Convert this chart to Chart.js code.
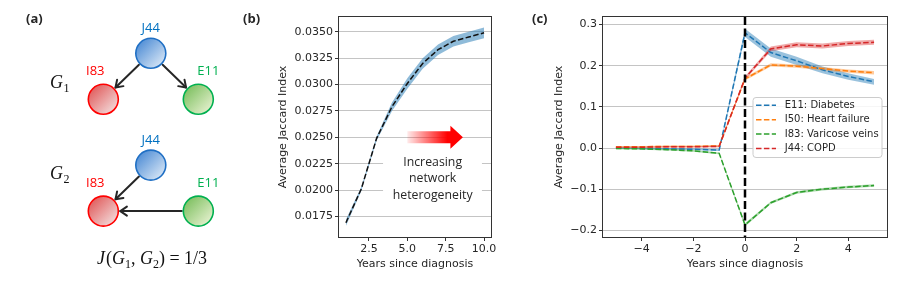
<!DOCTYPE html>
<html><head><meta charset="utf-8">
<script src="https://cdn.jsdelivr.net/npm/chart.js@4.4.0/dist/chart.umd.min.js"></script>
<style>
html,body{margin:0;padding:0;background:#fff;}
#wrap{position:relative;width:900px;height:288px;overflow:hidden;background:#fff;}
canvas{position:absolute;top:0;}
</style></head><body>
<div id="wrap">
<canvas id="ca" width="240" height="288" style="left:0px"></canvas>
<canvas id="cb" width="280" height="288" style="left:240px"></canvas>
<canvas id="cc" width="380" height="288" style="left:520px"></canvas>
</div>
<script>
// ---------- Panel (a): graph diagram ----------
const nodeNames = ['J44','I83','E11','J44','I83','E11'];
const nodeCol   = [1, 0, 2, 1, 0, 2];
const nodeRow   = [0, 1, 1, 2.43, 3.43, 3.43];
const edges     = [[0,1],[0,2],[3,4],[5,4]];
const graphNames = ['1','2'];
const graphRow   = [0.62, 2.6];
const jaccardText = '1/3';

// ---------- Panel (b) ----------
const yearsB   = [1,2,3,4,5,6,7,8,9,10];
const jaccardB = [0.0169,0.0201,0.0249,0.0279,0.0301,0.0320,0.0333,0.0341,0.0345,0.0349];
const errB     = [0.0003,0.0002,0.0002,0.0004,0.0005,0.0005,0.0005,0.0005,0.0005,0.0005];
const xTicksB  = [2.5,5.0,7.5,10.0];
const xLabelsB = ['2.5','5.0','7.5','10.0'];
const yTicksB  = [0.0175,0.0200,0.0225,0.0250,0.0275,0.0300,0.0325,0.0350];
const yLabelsB = ['0.0175','0.0200','0.0225','0.0250','0.0275','0.0300','0.0325','0.0350'];
const noteLines = ['Increasing','network','heterogeneity'];

// ---------- Panel (c) ----------
const yearsC = [-5,-4,-3,-2,-1,0,1,2,3,4,5];
const seriesNames  = ['E11: Diabetes','I50: Heart failure','I83: Varicose veins','J44: COPD'];
const seriesColors = ['#1f77b4','#ff7f0e','#2ca02c','#d62728'];
const e11 = [0.000,-0.001,-0.002,-0.003,-0.005,0.280,0.232,0.212,0.190,0.174,0.161];
const i50 = [0.003,0.003,0.004,0.004,0.005,0.168,0.202,0.199,0.193,0.187,0.183];
const i83 = [-0.001,-0.002,-0.004,-0.007,-0.013,-0.187,-0.133,-0.108,-0.100,-0.095,-0.091];
const j44 = [0.002,0.002,0.003,0.003,0.004,0.170,0.241,0.251,0.248,0.254,0.257];
const e11Err = [0.002,0.002,0.002,0.002,0.002,0.010,0.010,0.010,0.008,0.008,0.007];
const i50Err = [0.002,0.002,0.002,0.002,0.002,0.004,0.004,0.004,0.004,0.004,0.004];
const i83Err = [0.002,0.002,0.002,0.002,0.002,0.004,0.003,0.003,0.003,0.003,0.003];
const j44Err = [0.002,0.002,0.002,0.002,0.002,0.004,0.006,0.006,0.006,0.006,0.006];
const xTicksC  = [-4,-2,0,2,4];
const xLabelsC = ['\u22124','\u22122','0','2','4'];
const yTicksC  = [-0.2,-0.1,0.0,0.1,0.2,0.3];
const yLabelsC = ['\u22120.2','\u22120.1','0.0','0.1','0.2','0.3'];

// ---------- shared styling ----------
const TXT = '#262626';
const tickFont = {family:'DejaVu Sans', size:11};
const titleFont = {family:'DejaVu Sans', size:11};
const GRID = '#c4c4c4';

function panelLabel(ctx, text, x, y){
  ctx.save();
  ctx.font = 'bold 13px "Open Sans"';
  ctx.fillStyle = TXT;
  ctx.textBaseline = 'alphabetic';
  ctx.fillText(text, x, y);
  ctx.restore();
}
function frame(chart){
  const {ctx, chartArea:a} = chart;
  ctx.save();
  ctx.strokeStyle = '#333';
  ctx.lineWidth = 1;
  ctx.strokeRect(Math.round(a.left)-0.5, Math.round(a.top)-0.5, Math.round(a.right-a.left)+1, Math.round(a.bottom-a.top)+1);
  ctx.restore();
}

// ---------- Panel (a) chart ----------
const nodeStyle = {
  J44:{stroke:'#1f6fc4', c1:'#4d8cd5', c2:'#d9e7f6', text:'#0070c0', off:[0,-25]},
  I83:{stroke:'#ff0000', c1:'#e05a5a', c2:'#f3dcdc', text:'#ff0000', off:[-8,-28]},
  E11:{stroke:'#00b050', c1:'#7cbf5f', c2:'#e6f1cf', text:'#00b050', off:[10,-28]}
};
const R = 15;
const graphPlugin = {
  id:'graphA',
  beforeDatasetsDraw(chart){
    const {ctx, scales:{x,y}} = chart;
    ctx.save();
    ctx.strokeStyle = '#262626'; ctx.lineWidth = 2; ctx.lineCap = 'round'; ctx.lineJoin = 'round';
    edges.forEach(([a,b])=>{
      const x1 = x.getPixelForValue(nodeCol[a]), y1 = y.getPixelForValue(nodeRow[a]);
      const x2 = x.getPixelForValue(nodeCol[b]), y2 = y.getPixelForValue(nodeRow[b]);
      const dx = x2-x1, dy = y2-y1, d = Math.hypot(dx,dy), ux = dx/d, uy = dy/d;
      const sx = x1+ux*(R+1.5), sy = y1+uy*(R+1.5), ex = x2-ux*(R+2), ey = y2-uy*(R+2);
      ctx.beginPath(); ctx.moveTo(sx,sy); ctx.lineTo(ex,ey); ctx.stroke();
      const ang = Math.atan2(dy,dx), hl = 8, ha = 0.6;
      ctx.beginPath();
      ctx.moveTo(ex - hl*Math.cos(ang-ha), ey - hl*Math.sin(ang-ha));
      ctx.lineTo(ex, ey);
      ctx.lineTo(ex - hl*Math.cos(ang+ha), ey - hl*Math.sin(ang+ha));
      ctx.stroke();
    });
    ctx.restore();
  },
  afterDatasetsDraw(chart){
    const {ctx, scales:{x,y}} = chart;
    ctx.save();
    ctx.font = '13px "Open Sans"';
    ctx.textAlign = 'center'; ctx.textBaseline = 'middle';
    nodeNames.forEach((n,i)=>{
      const st = nodeStyle[n];
      ctx.fillStyle = st.text;
      ctx.fillText(n, x.getPixelForValue(nodeCol[i])+st.off[0], y.getPixelForValue(nodeRow[i])+st.off[1]);
    });
    // G labels
    ctx.textAlign = 'left'; ctx.textBaseline = 'alphabetic'; ctx.fillStyle = '#111';
    graphNames.forEach((g,i)=>{
      const gx = 50, gy = y.getPixelForValue(graphRow[i]) + 6;
      ctx.font = 'italic 18px "Liberation Serif"';
      ctx.fillText('G', gx, gy);
      const w = ctx.measureText('G').width;
      ctx.font = '12px "Liberation Serif"';
      ctx.fillText(g, gx + w + 0.5, gy + 4);
    });
    // J(G1, G2) = 1/3
    const parts = [['J','italic 18px',0],['(','18px',0],['G','italic 18px',0],['1','12px',4],[', ','18px',0],
                   ['G','italic 18px',0],['2','12px',4],[') = '+jaccardText,'18px',0]];
    let tot = 0;
    parts.forEach(p=>{ ctx.font = p[1]+' "Liberation Serif"'; tot += ctx.measureText(p[0]).width + (p[0]==='J'?1:0); });
    let cx = 152 - tot/2;
    const by = 264;
    parts.forEach(p=>{ ctx.font = p[1]+' "Liberation Serif"'; ctx.fillText(p[0], cx, by + p[2]); cx += ctx.measureText(p[0]).width + (p[0]==='J'?1:0); });
    ctx.restore();
    panelLabel(ctx, '(a)', 26, 23);
  }
};
function nodeGrad(c){
  if (c.type !== 'data') return '#ccc';
  const ch = c.chart, xs = ch.scales.x, ys = ch.scales.y;
  const st = nodeStyle[nodeNames[c.dataIndex]];
  const px = xs.getPixelForValue(nodeCol[c.dataIndex]), py = ys.getPixelForValue(nodeRow[c.dataIndex]);
  if (!isFinite(px) || !isFinite(py)) return st.c1;
  const g = ch.ctx.createLinearGradient(px-R*0.8, py-R*0.8, px+R*0.8, py+R*0.8);
  g.addColorStop(0, st.c1); g.addColorStop(1, st.c2);
  return g;
}
new Chart(document.getElementById('ca'), {
  type:'scatter',
  data:{datasets:[{
    data: nodeCol.map((c,i)=>({x:c, y:nodeRow[i]})),
    pointRadius:R, pointHoverRadius:R, borderWidth:1.6,
    borderColor: c => c.type==='data' ? nodeStyle[nodeNames[c.dataIndex]].stroke : '#000',
    backgroundColor: nodeGrad
  }]},
  options:{
    responsive:false, animation:false, events:[],
    layout:{padding:0, autoPadding:false},
    plugins:{legend:{display:false}, tooltip:{enabled:false}},
    scales:{
      x:{type:'linear', display:false, min:-2.175, max:2.878},
      y:{type:'linear', display:false, min:-1.159, max:5.102, reverse:true}
    }
  },
  plugins:[graphPlugin]
});

// ---------- Panel (b) chart ----------
const notePlugin = {
  id:'noteB',
  beforeDatasetsDraw(chart){
    const {ctx, scales:{x,y}} = chart;
    ctx.save();
    ctx.fillStyle = '#fff';
    const x0 = x.getPixelForValue(3.42), x1 = x.getPixelForValue(9.86);
    const y0 = y.getPixelForValue(0.0238), y1 = y.getPixelForValue(0.01858);
    ctx.fillRect(x0, y0, x1-x0, y1-y0);
    ctx.restore();
  },
  afterDatasetsDraw(chart){
    const {ctx, scales:{x,y}} = chart;
    frame(chart);
    ctx.save();
    const ax0 = x.getPixelForValue(5.0), ax1 = x.getPixelForValue(8.62), ay = y.getPixelForValue(0.0250);
    const g = ctx.createLinearGradient(ax0,0,ax1,0);
    g.addColorStop(0,'rgba(255,0,0,0.08)'); g.addColorStop(0.72,'rgba(255,0,0,1)'); g.addColorStop(1,'rgba(255,0,0,1)');
    ctx.fillStyle = g;
    const hl = 12.5, sh = 6, hh = 11.5;
    ctx.beginPath();
    ctx.moveTo(ax0, ay-sh); ctx.lineTo(ax1-hl, ay-sh); ctx.lineTo(ax1-hl, ay-hh); ctx.lineTo(ax1, ay);
    ctx.lineTo(ax1-hl, ay+hh); ctx.lineTo(ax1-hl, ay+sh); ctx.lineTo(ax0, ay+sh); ctx.closePath();
    ctx.fill();
    ctx.fillStyle = TXT; ctx.font = '12.3px "Open Sans"'; ctx.textAlign = 'center'; ctx.textBaseline = 'middle';
    const tx = x.getPixelForValue(6.65);
    const ty = [0.02263, 0.02111, 0.01953];
    noteLines.forEach((t,i)=> ctx.fillText(t, tx, y.getPixelForValue(ty[i])));
    ctx.restore();
    panelLabel(ctx, '(b)', 3, 23);
  }
};
new Chart(document.getElementById('cb'), {
  type:'line',
  data:{datasets:[
    {data: yearsB.map((v,i)=>({x:v, y:jaccardB[i]+errB[i]})), borderWidth:0, pointRadius:0, fill:false, order:3, borderColor:'rgba(0,0,0,0)'},
    {data: yearsB.map((v,i)=>({x:v, y:jaccardB[i]-errB[i]})), borderWidth:0, pointRadius:0, fill:0, order:2,
     borderColor:'rgba(0,0,0,0)', backgroundColor:'rgba(31,119,180,0.5)'},
    {data: yearsB.map((v,i)=>({x:v, y:jaccardB[i]})), borderColor:'#111', borderWidth:1.5, borderDash:[5.5,2.4],
     pointRadius:0, fill:false, order:1}
  ]},
  options:{
    responsive:false, animation:false, events:[],
    layout:{padding:{left:0, right:29, top:17, bottom:0}, autoPadding:false},
    plugins:{legend:{display:false}, tooltip:{enabled:false}},
    elements:{line:{tension:0}},
    scales:{
      x:{type:'linear', min:0.55, max:10.45,
         afterBuildTicks: s => { s.ticks = xTicksB.map(v=>({value:v})); },
         afterFit: s => { s.height = 51; },
         ticks:{callback:(v,i)=>xLabelsB[i], font:tickFont, color:TXT, padding:2, maxRotation:0, autoSkip:false},
         grid:{drawOnChartArea:false, drawTicks:true, tickLength:4, tickColor:'#333', tickWidth:1},
         border:{display:false},
         title:{display:true, text:'Years since diagnosis', font:titleFont, color:TXT, padding:{top:0,bottom:17}}},
      y:{type:'linear', min:0.01555, max:0.0364,
         afterBuildTicks: s => { s.ticks = yTicksB.map(v=>({value:v})); },
         afterFit: s => { s.width = 99; },
         ticks:{callback:(v,i)=>yLabelsB[i], font:tickFont, color:TXT, padding:2, autoSkip:false},
         grid:{color:GRID, lineWidth:1, drawTicks:true, tickLength:4, tickColor:'#333', tickWidth:1},
         border:{display:false},
         title:{display:true, text:'Average Jaccard Index', font:titleFont, color:TXT, padding:{top:36.5,bottom:0}}}
    }
  },
  plugins:[notePlugin]
});

// ---------- Panel (c) chart ----------
const seriesVals = [e11, i50, i83, j44];
const seriesErr  = [e11Err, i50Err, i83Err, j44Err];
const bandAlpha  = [0.45, 0.4, 0.4, 0.4];
function rgba(hex, a){
  const n = parseInt(hex.slice(1),16);
  return `rgba(${n>>16},${(n>>8)&255},${n&255},${a})`;
}
const dsC = [];
seriesVals.forEach((vals,s)=>{
  const base = dsC.length;
  dsC.push({data: yearsC.map((v,i)=>({x:v, y:vals[i]+seriesErr[s][i]})), borderWidth:0, pointRadius:0, fill:false,
            borderColor:'rgba(0,0,0,0)', order:30 - s*3});
  dsC.push({data: yearsC.map((v,i)=>({x:v, y:vals[i]-seriesErr[s][i]})), borderWidth:0, pointRadius:0, fill:base,
            borderColor:'rgba(0,0,0,0)', backgroundColor:rgba(seriesColors[s], bandAlpha[s]), order:29 - s*3});
  dsC.push({label: seriesNames[s], data: yearsC.map((v,i)=>({x:v, y:vals[i]})), borderColor:seriesColors[s],
            borderWidth:1.5, borderDash:[5.5,2.4], pointRadius:0, fill:false, order:10 - s});
});
const overlayC = {
  id:'overlayC',
  afterDatasetsDraw(chart){
    const {ctx, chartArea:a, scales:{x}} = chart;
    ctx.save();
    const x0 = x.getPixelForValue(0);
    ctx.strokeStyle = '#000'; ctx.lineWidth = 2.5; ctx.setLineDash([8,3.5]);
    ctx.beginPath(); ctx.moveTo(x0, a.top); ctx.lineTo(x0, a.bottom); ctx.stroke();
    ctx.restore();
    frame(chart);
    ctx.save();
    const bw = 129, bh = 60, bx = a.right - 5.5 - bw, by = a.top + 80;
    ctx.fillStyle = 'rgba(255,255,255,0.85)'; ctx.strokeStyle = '#cccccc'; ctx.lineWidth = 1;
    ctx.beginPath();
    if (ctx.roundRect) ctx.roundRect(bx+0.5, by+0.5, bw, bh, 3); else ctx.rect(bx+0.5, by+0.5, bw, bh);
    ctx.fill(); ctx.stroke();
    ctx.font = '10px "DejaVu Sans"'; ctx.textBaseline = 'middle'; ctx.textAlign = 'left';
    seriesNames.forEach((n,i)=>{
      const ry = by + 8.3 + i*14.4;
      ctx.strokeStyle = seriesColors[i]; ctx.lineWidth = 1.5; ctx.setLineDash([5.5,2.4]);
      ctx.beginPath(); ctx.moveTo(bx+3.5, ry); ctx.lineTo(bx+23.5, ry); ctx.stroke();
      ctx.setLineDash([]);
      ctx.fillStyle = TXT;
      ctx.fillText(n, bx+32.3, ry);
    });
    ctx.restore();
    panelLabel(ctx, '(c)', 12, 23);
  }
};
new Chart(document.getElementById('cc'), {
  type:'line',
  data:{datasets:dsC},
  options:{
    responsive:false, animation:false, events:[],
    layout:{padding:{left:0, right:13, top:17, bottom:0}, autoPadding:false},
    plugins:{legend:{display:false}, tooltip:{enabled:false}},
    elements:{line:{tension:0}},
    scales:{
      x:{type:'linear', min:-5.5, max:5.5,
         afterBuildTicks: s => { s.ticks = xTicksC.map(v=>({value:v})); },
         afterFit: s => { s.height = 51; },
         ticks:{callback:(v,i)=>xLabelsC[i], font:tickFont, color:TXT, padding:2, maxRotation:0, autoSkip:false},
         grid:{drawOnChartArea:false, drawTicks:true, tickLength:4, tickColor:'#333', tickWidth:1},
         border:{display:false},
         title:{display:true, text:'Years since diagnosis', font:titleFont, color:TXT, padding:{top:0,bottom:17}}},
      y:{type:'linear', min:-0.2163, max:0.3185,
         afterBuildTicks: s => { s.ticks = yTicksC.map(v=>({value:v})); },
         afterFit: s => { s.width = 83; },
         ticks:{callback:(v,i)=>yLabelsC[i], font:tickFont, color:TXT, padding:2, autoSkip:false},
         grid:{color:GRID, lineWidth:1, drawTicks:true, tickLength:4, tickColor:'#333', tickWidth:1},
         border:{display:false},
         title:{display:true, text:'Average Jaccard Index', font:titleFont, color:TXT, padding:{top:32.7,bottom:0}}}
    }
  },
  plugins:[overlayC]
});
</script>
</body></html>
